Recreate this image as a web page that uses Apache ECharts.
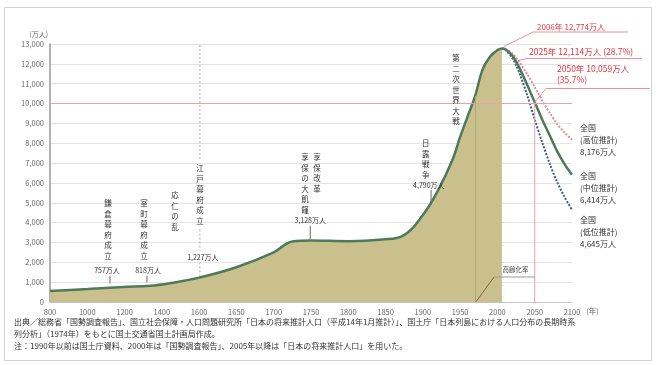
<!DOCTYPE html>
<html>
<head>
<meta charset="utf-8">
<script src="https://cdn.jsdelivr.net/npm/echarts@6/dist/echarts.min.js"></script>
<style>
html, body { margin: 0; padding: 0; background: #fff; }
#main { width: 658px; height: 365px; }
</style>
</head>
<body>
<div id="main"></div>
<script>
// 日本の人口の長期的推移（万人）
var tickYears = [800, 1000, 1200, 1400, 1600, 1650, 1700, 1750, 1800, 1850, 1900, 1950, 2000, 2050, 2100];

var histYears = [800, 1000, 1192, 1338, 1450, 1600, 1650, 1700, 1725, 1750, 1800, 1846, 1873, 1900, 1920, 1940, 1950, 1960, 1970, 1980, 1990, 2000, 2006];
var histPop = [551, 650, 757, 818, 960, 1227, 1750, 2500, 3050, 3100, 3065, 3150, 3330, 4385, 5596, 7193, 8320, 9342, 10372, 11706, 12361, 12693, 12774];

var projYears = [2006, 2010, 2020, 2025, 2030, 2040, 2050, 2060, 2070, 2080, 2090, 2100];
var projHigh = [12774, 12760, 12530, 12300, 12050, 11470, 10825, 10150, 9530, 8980, 8540, 8176];
var projMid = [12774, 12747, 12411, 12114, 11758, 10934, 10059, 9200, 8400, 7600, 6950, 6414];
var projLow = [12774, 12730, 12290, 11930, 11480, 10410, 9203, 8050, 6980, 6050, 5290, 4645];

var events = ['鎌倉幕府成立', '室町幕府成立', '応仁の乱', '江戸幕府成立', '享保改革', '享保の大飢饉', '日露戦争', '第二次世界大戦'];
var eventPop = ['757万人', '818万人', '1,227万人', '3,128万人', '4,790万人'];

var FONT = '"Noto Sans CJK JP", "Noto Sans", sans-serif';
var RED = '#e2323f';
var GREEN = '#4d7b5a';

// 年 -> 横軸上の位置（800〜1600は200年刻み、以降は50年刻み）
function pos(year) {
  for (var i = 0; i < tickYears.length - 1; i++) {
    if (year <= tickYears[i + 1]) {
      return i + (year - tickYears[i]) / (tickYears[i + 1] - tickYears[i]);
    }
  }
  return tickYears.length - 1;
}
function pairs(years, vals) {
  return years.map(function (y, i) { return [pos(y), vals[i]]; });
}

var chart = echarts.init(document.getElementById('main'));
chart.setOption({
  animation: false,
  textStyle: { fontFamily: FONT },
  grid: { left: 50, right: 86, top: 44, bottom: 63 },
  xAxis: {
    type: 'value', min: 0, max: 14, interval: 1,
    axisLine: { lineStyle: { color: '#c4c4c4' } },
    axisTick: { show: false },
    splitLine: { show: false },
    axisLabel: {
      fontSize: 7.5, color: '#666', margin: 6,
      formatter: function (v) { return String(tickYears[Math.round(v)]); }
    },
    name: '(年)', nameLocation: 'end', nameGap: 14,
    nameTextStyle: { fontSize: 7.5, color: '#666', verticalAlign: 'top', padding: [5, 0, 0, 0] }
  },
  yAxis: {
    type: 'value', min: 0, max: 13000, interval: 1000,
    axisLine: { show: true, lineStyle: { color: '#999', width: 1.5 } },
    axisTick: { show: false },
    splitLine: { lineStyle: { color: '#e4e4e4' } },
    axisLabel: {
      fontSize: 7.5, color: '#666', margin: 6,
      formatter: function (v) { return v.toLocaleString('en-US'); }
    },
    name: '(万人)', nameLocation: 'end', nameGap: 6,
    nameTextStyle: { fontSize: 7, color: '#666', align: 'right', padding: [0, 2, 0, 0] }
  },
  series: [
    {
      type: 'line', name: '実績', data: pairs(histYears, histPop),
      smooth: 0.4, symbol: 'none', z: 3,
      lineStyle: { color: GREEN, width: 2.5 },
      areaStyle: { color: '#c9c08d', opacity: 1 },
      markLine: {
        silent: true, symbol: 'none', label: { show: false },
        data: [
          { yAxis: 10000, lineStyle: { color: '#eaa2aa', width: 1, type: 'solid' } },
          [{ coord: [pos(1970), 0] }, { coord: [pos(1970), 10372], lineStyle: { color: '#b2a873', width: 1, type: 'solid' } }]
        ]
      }
    },
    {
      type: 'line', name: '高位推計', data: pairs(projYears, projHigh),
      smooth: 0.3, symbol: 'none', z: 2,
      lineStyle: { color: '#e5899a', width: 2, type: [2, 1.5] }
    },
    {
      type: 'line', name: '低位推計', data: pairs(projYears, projLow),
      smooth: 0.3, symbol: 'none', z: 2,
      lineStyle: { color: '#3d5d86', width: 2, type: [2, 1.5] }
    },
    {
      type: 'line', name: '中位推計', data: pairs(projYears, projMid),
      smooth: 0.3, symbol: 'none', z: 4,
      lineStyle: { color: GREEN, width: 2.5 }
    }
  ]
});

function P(year, val) {
  return chart.convertToPixel({ gridIndex: 0 }, [pos(year), val]);
}
function txt(str, x, y, o) {
  o = o || {};
  return {
    type: 'text', x: x, y: y, z: 100, silent: true,
    style: {
      text: str, fontFamily: FONT, fontSize: o.size || 7.5, fill: o.color || '#333',
      align: o.align || 'center', verticalAlign: o.va || 'top', lineHeight: o.lh || 10.5
    }
  };
}
function vtxt(str, year, val) {
  var p = P(year, val);
  return txt(str.split('').join('\n'), p[0], p[1], { size: 7.5, lh: 10.5 });
}
function seg(points, color, width, dash) {
  return {
    type: 'polyline', z: 90, silent: true,
    shape: { points: points },
    style: { stroke: color, lineWidth: width || 1, fill: null, lineDash: dash || null }
  };
}
function vseg(year, v1, v2, color, dash) {
  return seg([P(year, v1), P(year, v2)], color || '#666', 1, dash);
}

var g = [];
// 外枠
g.push({ type: 'rect', z: 0, silent: true, shape: { x: 4.5, y: 7.5, width: 647, height: 353 },
  style: { fill: null, stroke: '#d2d2d2', lineWidth: 1 } });

// 歴史上の出来事
g.push(vtxt(events[0], 1111, 5240));
g.push(vtxt(events[1], 1304, 5240));
g.push(vtxt(events[2], 1470, 5645));
g.push(vtxt(events[3], 1601, 7000));
g.push(vtxt(events[4], 1758, 7560));
g.push(vtxt(events[5], 1742, 7560));
g.push(vtxt(events[6], 1904, 8265));
g.push(vtxt(events[7], 1944.5, 12550));

var lp = [[1106, 1613], [1326, 1613], [1605, 2268], [1749, 4133], [1908, 5897]];
eventPop.forEach(function (s, i) {
  var p = P(lp[i][0], lp[i][1]);
  g.push(txt(s, p[0], p[1], { size: 7, va: 'middle' }));
});
g.push(vseg(1122, 1310, 930));
g.push(vseg(1320, 1310, 1000));
g.push(vseg(1749, 3830, 3160));
g.push(vseg(1911, 5645, 4900));
g.push(vseg(1601, 12950, 7150, '#aaa', [2, 2]));
g.push(vseg(1601, 3650, 2600, '#aaa', [2, 2]));
g.push(vseg(1601, 2000, 1320, '#aaa', [2, 2]));

// 赤の注記
var A = P(2006, 12774);
g.push(seg([[A[0] + 2, A[1] - 2], [533, 32], [628, 32]], '#ee8e98', 1));
g.push(txt('2006年 12,774万人', 537, 27, { size: 8, color: RED, align: 'left', va: 'middle' }));
var B = P(2025, 12114);
g.push(seg([[B[0] + 2, B[1] - 1], [527, 58.5], [642, 58.5]], '#ee8e98', 1));
g.push(txt('2025年 12,114万人 (28.7%)', 529, 52, { size: 8.5, color: RED, align: 'left', va: 'middle' }));
var C = P(2050, 10059);
g.push(vseg(2050, 0, 10059, '#eaa2aa'));
g.push(seg([C, [546, 88.5], [650, 88.5]], '#ee8e98', 1));
g.push(txt('2050年 10,059万人\n(35.7%)', 557, 63, { size: 8.5, color: RED, align: 'left', lh: 11 }));

// 推計ラベル
var H = P(2100, 8176), M = P(2100, 6414), L = P(2100, 4645);
g.push(txt('全国\n(高位推計)\n8,176万人', H[0] + 8, H[1] - 18, { size: 8, align: 'left', lh: 12 }));
g.push(txt('全国\n(中位推計)\n6,414万人', M[0] + 8, M[1] - 5, { size: 8, align: 'left', lh: 12 }));
g.push(txt('全国\n(低位推計)\n4,645万人', L[0] + 8, L[1] + 4, { size: 8, align: 'left', lh: 12 }));

// 高齢化率の引出線
var q0 = P(1971, 0), q1 = P(1995.5, 1260), q2 = P(2050, 1260);
g.push(seg([q0, q1], '#8a6a3a', 1));
g.push(seg([q1, q2], '#999', 1));
g.push(txt('高齢化率', (q1[0] + q2[0]) / 2 + 1, q1[1] - 2, { size: 6.5, va: 'bottom', color: '#444' }));

// 出典・注
g.push(txt('出典／総務省「国勢調査報告」、国立社会保障・人口問題研究所「日本の将来推計人口（平成14年1月推計）」、国土庁「日本列島における人口分布の長期時系', 14, 322, { size: 8, align: 'left', va: 'middle', color: '#333' }));
g.push(txt('列分析」（1974年）をもとに国土交通省国土計画局作成。', 14, 334, { size: 8, align: 'left', va: 'middle', color: '#333' }));
g.push(txt('注：1990年以前は国土庁資料、2000年は「国勢調査報告」、2005年以降は「日本の将来推計人口」を用いた。', 14, 346, { size: 8, align: 'left', va: 'middle', color: '#333' }));

chart.setOption({ graphic: g });
</script>
</body>
</html>
